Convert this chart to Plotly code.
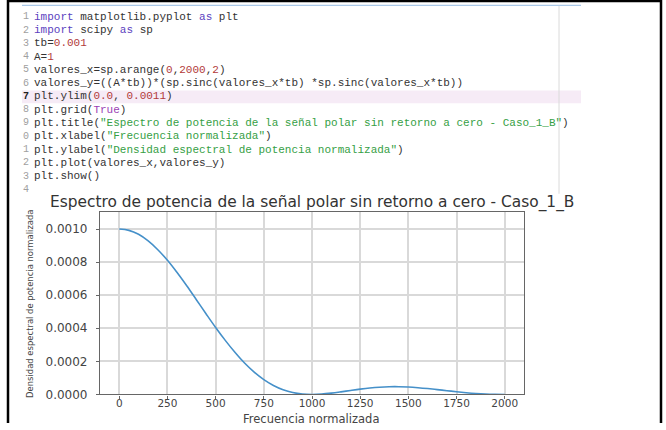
import plotly.graph_objects as go

# Frequency axis and the normalised power spectral density
frecuencia = [0, 50, 100, 150, 200, 250, 300, 350, 400, 450, 500, 550, 600, 650, 700,
              750, 800, 850, 900, 950, 1000, 1050, 1100, 1150, 1200, 1250, 1300, 1350,
              1400, 1450, 1500, 1550, 1600, 1650, 1700, 1750, 1800, 1850, 1900, 1950, 2000]
densidad = [0.001000, 0.000992, 0.000968, 0.000928, 0.000875, 0.000811, 0.000737,
            0.000657, 0.000573, 0.000488, 0.000405, 0.000327, 0.000255, 0.000190,
            0.000135, 0.0000901, 0.0000547, 0.0000289, 0.0000119, 0.0000027, 0.0,
            0.0000022, 0.0000080, 0.0000158, 0.0000243, 0.0000324, 0.0000392,
            0.0000441, 0.0000468, 0.0000470, 0.0000450, 0.0000411, 0.0000358,
            0.0000295, 0.0000229, 0.0000165, 0.0000108, 0.0000061, 0.0000027,
            0.0000007, 0.0]

x_ticks = [0, 250, 500, 750, 1000, 1250, 1500, 1750, 2000]
y_ticks = [0.0, 0.0002, 0.0004, 0.0006, 0.0008, 0.0010]

titulo = "Espectro de potencia de la señal polar sin retorno a cero - Caso_1_B"
etiqueta_x = "Frecuencia normalizada"
etiqueta_y = "Densidad espectral de potencia normalizada"

# code cell shown above the chart: (visible line number, [(text, kind), ...])
codigo = [
    ("1", [("import", "kw"), (" matplotlib.pyplot ", "tx"), ("as", "kw"), (" plt", "tx")]),
    ("2", [("import", "kw"), (" scipy ", "tx"), ("as", "kw"), (" sp", "tx")]),
    ("3", [("tb=", "tx"), ("0.001", "num")]),
    ("4", [("A=", "tx"), ("1", "num")]),
    ("5", [("valores_x=sp.arange(", "tx"), ("0", "num"), (",", "tx"), ("2000", "num"), (",", "tx"), ("2", "num"), (")", "tx")]),
    ("6", [("valores_y=((A*tb))*(sp.sinc(valores_x*tb) *sp.sinc(valores_x*tb))", "tx")]),
    ("7", [("plt.ylim(", "tx"), ("0.0", "num"), (", ", "tx"), ("0.0011", "num"), (")", "tx")]),
    ("8", [("plt.grid(", "tx"), ("True", "kc"), (")", "tx")]),
    ("9", [("plt.title(", "tx"), ('"' + titulo + '"', "str"), (")", "tx")]),
    ("0", [("plt.xlabel(", "tx"), ('"' + etiqueta_x + '"', "str"), (")", "tx")]),
    ("1", [("plt.ylabel(", "tx"), ('"' + etiqueta_y + '"', "str"), (")", "tx")]),
    ("2", [("plt.plot(valores_x,valores_y)", "tx")]),
    ("3", [("plt.show()", "tx")]),
    ("4", []),
]
colores = {"kw": "#5b3fc0", "tx": "#333333", "num": "#b23a3a", "kc": "#9b3fb5", "str": "#35a045"}

W, H = 666, 430


def px(x):
    return x / W


def py(y):
    return 1 - y / H


fig = go.Figure()
fig.add_trace(go.Scatter(x=frecuencia, y=densidad, mode="lines", line_shape="spline",
                         line=dict(color="#4590c9", width=1.6), hoverinfo="skip"))

P = dict(xref="paper", yref="paper")
shapes = [
    # screenshot frame
    dict(type="line", x0=px(8), x1=px(8), y0=py(0), y1=py(430), line=dict(color="black", width=2.5), **P),
    dict(type="line", x0=px(661), x1=px(661), y0=py(0), y1=py(430), line=dict(color="black", width=2.5), **P),
    dict(type="line", x0=px(8), x1=px(661), y0=py(1), y1=py(1), line=dict(color="black", width=2.5), **P),
    # editor details
    dict(type="line", x0=px(22), x1=px(581), y0=py(5.5), y1=py(5.5), line=dict(color="#a9c8e8", width=1.2), **P),
    dict(type="rect", x0=px(22), x1=px(581), y0=py(92), y1=py(105), fillcolor="#f6ebf6", line_width=0,
         layer="below", **P),
    dict(type="line", x0=px(559), x1=px(559), y0=py(6), y1=py(197), line=dict(color="#dadada", width=1), **P),
]

annotations = []
y0, dy = 17, 13.5
for i, (num, partes) in enumerate(codigo):
    y = y0 + i * dy
    annotations.append(dict(
        x=px(21), y=py(y), xanchor="left", yanchor="middle",
        text=("<b>%s</b>" % num) if i == 6 else num, showarrow=False,
        font=dict(family="Liberation Mono", size=10, color="#222222" if i == 6 else "#a0a0a0"), **P))
    if partes:
        html = "".join("<span style='color:%s'>%s</span>" % (colores[k], t) for t, k in partes)
        annotations.append(dict(
            x=px(32), y=py(y), xanchor="left", yanchor="middle",
            text=html, showarrow=False, font=dict(family="Liberation Mono", size=11, color="#333333"), **P))

annotations += [
    dict(x=px(312), y=py(206), xanchor="center", yanchor="middle",
         text=titulo, showarrow=False, font=dict(family="DejaVu Sans", size=15.4, color="#333333"), **P),
    dict(x=px(311), y=py(425.5), xanchor="center", yanchor="middle", borderpad=0,
         text=etiqueta_x, showarrow=False, font=dict(family="DejaVu Sans", size=11.5, color="#444444"), **P),
    dict(x=px(30), y=py(309), xanchor="center", yanchor="middle",
         text=etiqueta_y, textangle=-90, showarrow=False,
         font=dict(family="DejaVu Sans Condensed", size=9.4, color="#444444"), **P),
]

axis_style = dict(ticks="outside", ticklen=3, tickcolor="#666666", showline=True, mirror=True,
                  linecolor="#666666", linewidth=1.2, showgrid=True, gridcolor="#d9d9d9", gridwidth=1.5,
                  zeroline=False)

fig.update_layout(
    width=W, height=H, margin=dict(l=0, r=0, t=0, b=0),
    paper_bgcolor="white", plot_bgcolor="white", showlegend=False,
    shapes=shapes, annotations=annotations,
    xaxis=dict(domain=[px(100), px(524)], range=[-100, 2100], tickvals=x_ticks, ticklabelstandoff=-4,
               tickfont=dict(family="DejaVu Sans", size=10.5, color="#444444"), **axis_style),
    yaxis=dict(domain=[py(401), py(216)], range=[0, 0.0011], tickvals=y_ticks, tickformat=".4f",
               ticklabelstandoff=6, tickfont=dict(family="DejaVu Sans", size=12, color="#444444"),
               **axis_style),
)

fig.write_html("out.html", config={"displayModeBar": False},
               post_script="document.body.style.margin='0';document.body.style.overflow='hidden';window.scrollTo(0,0);")
